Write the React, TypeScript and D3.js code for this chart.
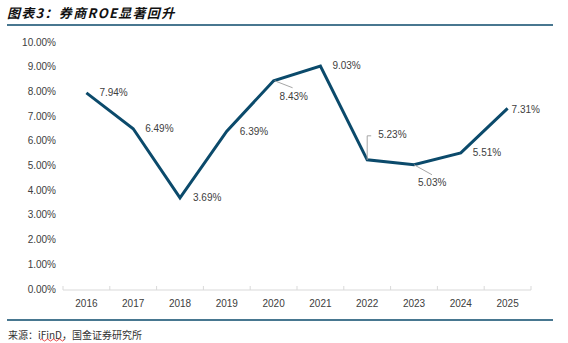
import React from "react";
import * as d3 from "d3";

const years = ["2016", "2017", "2018", "2019", "2020", "2021", "2022", "2023", "2024", "2025"];
const roe = [7.94, 6.49, 3.69, 6.39, 8.43, 9.03, 5.23, 5.03, 5.51, 7.31];
const yTicks = [0, 1, 2, 3, 4, 5, 6, 7, 8, 9, 10];
const title = "图表3：券商ROE显著回升";
const source = "来源：iFinD，国金证券研究所";

// label offsets [dx, dy] relative to the point
const labelOffsets: [number, number][] = [
  [13, 0], [12, 0], [13, 0], [13, 0], [6, 16], [12, 0], [11, -25], [4, 18], [12, 0], [4, 1],
];

export default function App() {
  const W = 568, H = 343;
  const x = d3.scaleBand().domain(years).range([63, 531]);
  const y = d3.scaleLinear().domain([0, 10]).range([289, 42]);
  const cx = (d: string) => (x(d) as number) + x.bandwidth() / 2;
  const line = d3.line<number>().x((_, i) => cx(years[i])).y((d) => y(d));
  const font = "'Liberation Sans', Arial, sans-serif";
  const cjk = "'Noto Sans CJK SC', sans-serif";
  const navy = "#0B4A6B";
  return (
    <svg width={W} height={H} style={{ position: "absolute", left: 0, top: 0, background: "#fff" }}>
      <text x={7} y={18} fontFamily={cjk} fontSize={13} fontWeight="bold" fontStyle="italic" fill="#111" letterSpacing={1.3}>
        {title}
      </text>
      <line x1={7} x2={553} y1={25} y2={25} stroke={navy} strokeWidth={1.5} />
      {yTicks.map((t) => (
        <text key={t} x={56} y={y(t)} dy="0.35em" textAnchor="end" fontFamily={font} fontSize={10} fill="#404040">
          {t.toFixed(2) + "%"}
        </text>
      ))}
      <line x1={63} x2={531} y1={290} y2={290} stroke="#D9D9D9" strokeWidth={1} />
      {d3.range(years.length + 1).map((i) => {
        const xx = 63 + i * x.bandwidth();
        return <line key={i} x1={xx} x2={xx} y1={286} y2={290} stroke="#D9D9D9" strokeWidth={1} />;
      })}
      {years.map((yr) => (
        <text key={yr} x={cx(yr)} y={303} dy="0.35em" textAnchor="middle" fontFamily={font} fontSize={10} fill="#404040">
          {yr}
        </text>
      ))}
      <path d={line(roe) || ""} fill="none" stroke={navy} strokeWidth={3} strokeLinejoin="miter" />
      <path d={`M${cx("2020") + 1},${y(roe[4])} L${cx("2020") + 19},${y(roe[4]) + 7}`} stroke="#A6A6A6" fill="none" strokeWidth={1} />
      <path d={`M${cx("2022")},${y(roe[6])} V${y(roe[6]) - 24} H${cx("2022") + 4}`} stroke="#A6A6A6" fill="none" strokeWidth={1} />
      <path d={`M${cx("2023")},${y(roe[7])} L${cx("2023") + 18},${y(roe[7]) + 10}`} stroke="#A6A6A6" fill="none" strokeWidth={1} />
      {roe.map((v, i) => (
        <text key={i} x={cx(years[i]) + labelOffsets[i][0]} y={y(v) + labelOffsets[i][1]} dy="0.35em" fontFamily={font} fontSize={10} fill="#404040">
          {v.toFixed(2) + "%"}
        </text>
      ))}
      <line x1={7} x2={553} y1={320} y2={320} stroke={navy} strokeWidth={1.5} />
      <text x={8} y={335} dy="0.35em" fontFamily={cjk} fontSize={10} fill="#333">
        {source}
      </text>
      <path d="M40,340 q1.5,-2 3,0 t3,0 t3,0 t3,0 t3,0 t3,0 t3,0 t3,0" stroke="#E02020" fill="none" strokeWidth={0.8} />
    </svg>
  );
}
